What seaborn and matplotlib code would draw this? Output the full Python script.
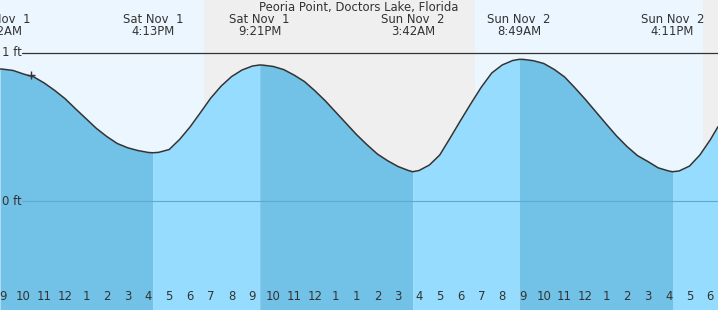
import numpy as np
import pandas as pd
import matplotlib
matplotlib.use("Agg")
import matplotlib.pyplot as plt
import seaborn as sns

# ---------------- data (hours of real elapsed time since Sat Nov 1, 9:00 AM EDT) ----------------
title = "Peoria Point, Doctors Lake, Florida"

# tide extremes (high/low) shown in the header
extreme_hours = [-0.13, 7.217, 12.35, 19.70, 24.817, 32.183]
extreme_heights = [0.892, 0.326, 0.919, 0.198, 0.957, 0.198]
extreme_days = ["Sat Nov  1", "Sat Nov  1", "Sat Nov  1", "Sun Nov  2", "Sun Nov  2", "Sun Nov  2"]
extreme_times = ["8:52AM", "4:13PM", "9:21PM", "3:42AM", "8:49AM", "4:11PM"]

# half-hourly height readings (ft)
reading_hours = [0.0, 0.5, 1.0, 1.5, 2.0, 2.5, 3.0, 3.5, 4.0, 4.5, 5.0, 5.5,
                 6.0, 6.5, 7.0, 7.5, 8.0, 8.5, 9.0, 9.5, 10.0, 10.5, 11.0, 11.5,
                 12.0, 12.5, 13.0, 13.5, 14.0, 14.5, 15.0, 15.5, 16.0, 16.5, 17.0, 17.5,
                 18.0, 18.5, 19.0, 19.5, 20.0, 20.5, 21.0, 21.5, 22.0, 22.5, 23.0, 23.5,
                 24.0, 24.5, 25.0, 25.5, 26.0, 26.5, 27.0, 27.5, 28.0, 28.5, 29.0, 29.5,
                 30.0, 30.5, 31.0, 31.5, 32.0, 32.5, 33.0, 33.5, 34.0, 34.37]
reading_heights = [0.891, 0.882, 0.858, 0.838, 0.797, 0.747, 0.691, 0.623, 0.557, 0.491, 0.436, 0.389,
                   0.360, 0.341, 0.328, 0.329, 0.348, 0.416, 0.500, 0.597, 0.696, 0.777, 0.841, 0.885,
                   0.912, 0.918, 0.909, 0.888, 0.851, 0.807, 0.745, 0.677, 0.601, 0.525, 0.449, 0.381,
                   0.318, 0.272, 0.233, 0.206, 0.206, 0.243, 0.311, 0.426, 0.544, 0.659, 0.770, 0.865,
                   0.919, 0.949, 0.957, 0.948, 0.929, 0.889, 0.838, 0.764, 0.686, 0.603, 0.520, 0.439,
                   0.368, 0.307, 0.267, 0.224, 0.203, 0.203, 0.236, 0.311, 0.414, 0.502]

# hour tick labels (DST ends at 2 AM Sunday -> "1" appears twice)
hour_labels = ["9", "10", "11", "12", "1", "2", "3", "4", "5", "6", "7", "8",
               "9", "10", "11", "12", "1", "1", "2", "3", "4", "5", "6", "7",
               "8", "9", "10", "11", "12", "1", "2", "3", "4", "5", "6"]
midnight_index = 15

# night periods (sunset -> sunrise)
night_start = [9.67, 33.65]
night_end = [22.70, 40.0]

now_hour, now_height = 1.345, 0.851

# ---------------- styling ----------------
DAY = "#ECF6FE"
NIGHT = "#EFEFEF"
FALL = "#72C1E6"
RISE = "#96DCFE"
TXT = "#333333"

sns.set_theme(style="white")
plt.rcParams["font.family"] = ["DejaVu Sans"]

W, H = 718, 310
fig = plt.figure(figsize=(W / 100, H / 100), dpi=100)
ax = fig.add_axes([0, 0, 1, 1])
ax.set_xlim(-0.13, 34.37)
ax.set_ylim(-0.736, 1.358)
ax.set_facecolor(DAY)
for s in ax.spines.values():
    s.set_visible(False)

for a, b in zip(night_start, night_end):
    ax.axvspan(a, b, color=NIGHT, lw=0, zorder=0)

df = pd.DataFrame({
    "hour": reading_hours + extreme_hours,
    "height": reading_heights + extreme_heights,
}).sort_values("hour").drop_duplicates("hour").reset_index(drop=True)

# fill by rising / falling segments
bounds = extreme_hours + [df["hour"].max()]
for i in range(len(bounds) - 1):
    a, b = bounds[i], bounds[i + 1]
    seg = df[(df["hour"] >= a) & (df["hour"] <= b)]
    rising = seg["height"].iloc[-1] > seg["height"].iloc[0]
    ax.fill_between(seg["hour"], seg["height"], -1, color=RISE if rising else FALL,
                    lw=0, zorder=1)

# reference lines
ax.axhline(1, xmin=22 / W, xmax=1, color=TXT, lw=0.9, zorder=2)
ax.axhline(0, xmin=22 / W, xmax=1, color="#5EA9D4", lw=0.8, zorder=2)

sns.lineplot(data=df, x="hour", y="height", ax=ax, color="#333333", lw=1.1,
             estimator=None, zorder=4)
ax.plot([now_hour], [now_height], marker="+", ms=5.5, mew=1.0, color="#333333", zorder=5)

ax.set_xlabel("")
ax.set_ylabel("")

# hour ticks
tick_pos = list(range(0, 35))
ax.set_xticks(tick_pos)
ax.set_xticklabels([])
ax.set_yticks([])
ax.tick_params(axis="x", which="major", bottom=True, direction="in", length=5.8,
               width=0.8, color=TXT, pad=0)
mt = ax.xaxis.get_major_ticks()[midnight_index]
mt.tick1line.set_markeredgewidth(2.4)
mt.tick1line.set_color("#222222")

xt = ax.get_xaxis_transform()
for p, lab in zip(tick_pos, hour_labels):
    ax.text(p, 1 - 296 / H, lab, transform=xt, ha="center", va="center",
            fontsize=8.4, color=TXT, zorder=6)

# y labels
for val, lab in [(1, "1 ft"), (0, "0 ft")]:
    ax.text(2 / W, val, lab, transform=ax.get_yaxis_transform(), ha="left",
            va="center", fontsize=8.4, color=TXT, zorder=6)

# header labels
for hx, d, tm in zip(extreme_hours, extreme_days, extreme_times):
    ax.text(hx, 1 - 19.5 / H, d, transform=xt, ha="center", va="center",
            fontsize=8.4, color=TXT, zorder=6)
    ax.text(hx, 1 - 31.5 / H, tm, transform=xt, ha="center", va="center",
            fontsize=8.4, color=TXT, zorder=6)

ax.text(0.5, 1 - 7 / H, title, transform=ax.transAxes, ha="center", va="center",
        fontsize=8.4, color=TXT, zorder=6)

fig.savefig("out.png", dpi=100)
